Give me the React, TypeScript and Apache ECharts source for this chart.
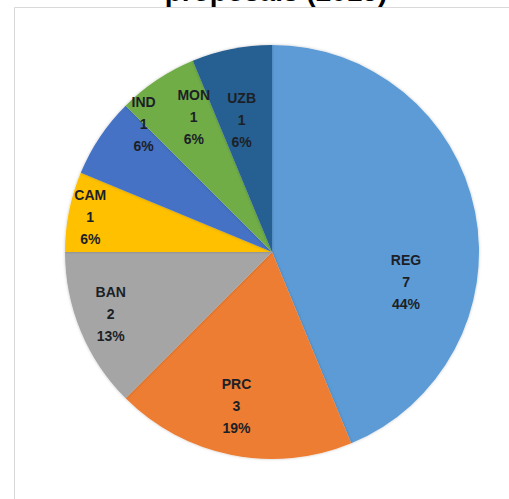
import React, { useEffect, useRef } from 'react';
import * as echarts from 'echarts';

const categories = ['REG', 'PRC', 'BAN', 'CAM', 'IND', 'MON', 'UZB'];
const values = [7, 3, 2, 1, 1, 1, 1];
const colors = ['#5B9BD5', '#ED7D31', '#A5A5A5', '#FFC000', '#4472C4', '#70AD47', '#255E91'];
// label placement (Excel "best fit"): radius fraction and angle clockwise from top
const labelRadiusFraction = [0.65, 0.75, 0.82, 0.88, 0.86, 0.74, 0.64];
const labelAngleDeg = [103, 193, 249, 281, 315, 330, 347];
const titleText = 'proposals (2015)';

const CX = 272;
const CY = 252;
const R = 207;

export default function App() {
  const ref = useRef<HTMLDivElement>(null);
  useEffect(() => {
    document.body.style.margin = '0';
    if (!ref.current) return;
    const chart = echarts.init(ref.current, undefined, { renderer: 'svg' });
    const total = values.reduce((a, b) => a + b, 0);
    let acc = 0;
    const data = categories.map((name, i) => {
      const mid = ((acc + values[i] / 2) / total) * 360;
      acc += values[i];
      const m = (mid * Math.PI) / 180;
      const a = (labelAngleDeg[i] * Math.PI) / 180;
      const defX = (R / 2) * Math.sin(m);
      const defY = -(R / 2) * Math.cos(m);
      const wantX = labelRadiusFraction[i] * R * Math.sin(a);
      const wantY = -labelRadiusFraction[i] * R * Math.cos(a);
      return {
        name,
        value: values[i],
        itemStyle: { color: colors[i] },
        label: { offset: [wantX - defX, wantY - defY] },
      };
    });
    chart.setOption({
      animation: false,
      backgroundColor: '#ffffff',
      title: {
        text: titleText,
        left: 271,
        top: -28,
        textAlign: 'center',
        textStyle: {
          fontFamily: 'Liberation Sans',
          fontWeight: 'bold',
          fontSize: 28,
          lineHeight: 28,
          color: '#000000',
        },
      },
      graphic: [
        {
          type: 'rect',
          shape: { x: 14.5, y: 7.5, width: 600, height: 600 },
          style: { fill: 'none', stroke: '#d9d9d9', lineWidth: 1 },
          silent: true,
          z: -1,
        },
      ],
      series: [
        {
          type: 'pie',
          center: [CX, CY],
          radius: [0, R],
          startAngle: 90,
          clockwise: true,
          percentPrecision: 0,
          avoidLabelOverlap: false,
          itemStyle: {
            borderWidth: 0,
            shadowBlur: 3,
            shadowColor: 'rgba(0,0,0,0.22)',
          },
          label: {
            show: true,
            position: 'inside',
            formatter: '{b}\n{c}\n{d}%',
            fontFamily: 'Liberation Sans',
            fontWeight: 'bold',
            fontSize: 14,
            lineHeight: 22,
            color: '#1c1f26',
            align: 'center',
          },
          labelLine: { show: false },
          emphasis: { disabled: true },
          data,
        },
      ],
    });
    return () => chart.dispose();
  }, []);
  return <div ref={ref} style={{ width: 509, height: 499 }} />;
}
